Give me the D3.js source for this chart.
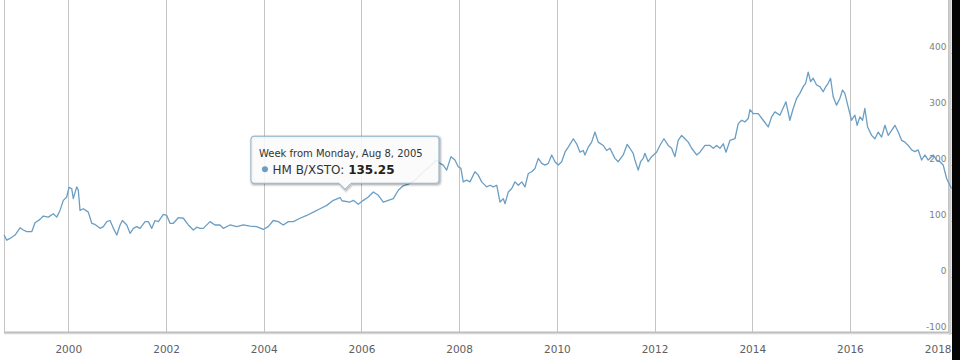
<!DOCTYPE html>
<html><head><meta charset="utf-8">
<script src="https://cdn.jsdelivr.net/npm/d3@7"></script>
<style>html,body{margin:0;padding:0;background:#fff;} svg{display:block;}</style>
</head><body><svg id="chart" width="960" height="360"></svg>
<script>
const seriesName = "HM B/XSTO";
// time in decimal years (weekly closes)
const years = [
1998.684,1998.739,1998.807,1998.909,1999.012,1999.079,1999.149,1999.251,1999.319,1999.421,1999.488,1999.591,1999.693,1999.763,1999.830,1999.898,1999.967,
2000.014,2000.070,2000.102,2000.172,2000.205,2000.239,2000.307,2000.409,2000.479,2000.546,2000.649,2000.716,2000.786,2000.853,2000.921,2000.991,
2001.058,2001.105,2001.195,2001.263,2001.330,2001.400,2001.467,2001.570,2001.637,2001.707,2001.774,2001.842,2001.944,
2002.014,2002.081,2002.149,2002.251,2002.354,2002.456,2002.558,2002.628,2002.695,2002.763,2002.900,
2003.002,2003.105,2003.172,2003.309,2003.447,2003.582,2003.719,2003.856,2003.991,
2004.093,2004.196,2004.298,2004.400,2004.503,2004.605,2004.742,2004.879,
2005.014,2005.151,2005.289,2005.424,2005.561,2005.600,2005.765,2005.833,2005.935,
2006.038,2006.140,2006.242,2006.345,2006.447,2006.549,2006.652,2006.754,2006.856,2006.959,
2007.096,2007.259,2007.403,2007.540,2007.607,2007.675,2007.745,2007.833,2007.914,2007.982,
2008.037,2008.084,2008.154,2008.221,2008.324,2008.391,2008.461,2008.563,2008.631,2008.698,2008.768,2008.835,2008.903,2008.938,
2009.005,2009.075,2009.142,2009.210,2009.280,2009.347,2009.415,2009.484,2009.552,2009.619,2009.689,2009.756,2009.824,2009.894,2009.961,
2010.029,2010.098,2010.166,2010.233,2010.336,2010.405,2010.473,2010.540,2010.575,2010.643,2010.712,2010.780,2010.847,2010.949,
2011.019,2011.087,2011.189,2011.256,2011.359,2011.441,2011.496,2011.563,2011.598,2011.666,2011.715,2011.768,2011.803,2011.870,2011.940,
2012.042,2012.110,2012.192,2012.280,2012.349,2012.417,2012.484,2012.554,2012.621,2012.689,2012.759,2012.861,2012.928,
2013.031,2013.133,2013.201,2013.270,2013.338,2013.405,2013.461,2013.542,2013.645,2013.712,2013.782,2013.849,2013.917,2013.952,
2014.019,2014.122,2014.224,2014.326,2014.396,2014.463,2014.566,2014.689,2014.770,2014.838,2014.908,2014.975,
2015.043,2015.092,2015.145,2015.194,2015.247,2015.317,2015.384,2015.452,2015.507,2015.554,2015.603,2015.657,2015.726,2015.794,2015.849,2015.896,2015.964,
2016.033,2016.101,2016.148,2016.203,2016.258,2016.305,2016.361,2016.443,2016.510,2016.578,2016.647,2016.715,2016.782,2016.852,2016.919,2016.987,
2017.057,2017.124,2017.192,2017.261,2017.329,2017.396,2017.466,2017.533,2017.601,2017.703,2017.773,2017.840,2017.908,2017.943,2017.978,
2018.045,2018.080
];
const values = [
74,65,68,74,87,83,80,80,96,102,108,106,112,106,118,136,142,
159,157,139,160,154,118,121,115,95,93,86,89,98,100,86,74,
92,100,92,77,86,89,86,98,98,86,100,98,111,
109,95,95,105,104,92,83,88,86,86,98,
92,92,86,92,89,92,90,89,84,
89,100,98,92,98,98,104,109,
115,121,127,136,141,135.25,133,136,129,
136,142,151,145,133,136,139,154,162,165,
172,186,197,208,202,199,190,214,208,196,
193,169,172,169,187,181,169,160,163,160,163,133,139,130,
151,157,169,163,169,160,184,187,193,211,202,199,202,217,205,
199,205,222,231,246,237,222,225,217,231,240,258,240,234,
225,229,211,205,217,236,229,220,208,190,205,211,220,205,214,
222,234,246,234,229,214,243,252,246,240,229,217,222,
234,234,229,234,229,237,222,243,246,273,279,276,282,298,
291,291,279,267,285,294,288,312,279,300,318,327,
339,345,365,348,354,342,339,330,339,345,354,321,306,318,333,327,303,
279,288,270,285,279,300,267,252,246,258,249,270,252,261,270,258,
243,240,234,226,223,226,208,217,208,217,208,205,199,187,175,
163,157
];
const xTickYears = [2000,2002,2004,2006,2008,2010,2012,2014,2016,2018];
const xTickLabels = ["2000","2002","2004","2006","2008","2010","2012","2014","2016","2018"];
const yTicks = [-100,0,100,200,300,400];
const yTickLabels = ["-100","0","100","200","300","400"];
const tooltipDateLabel = "Week from Monday, Aug 8, 2005";
const tooltipYear = 2005.600;
const tooltipValue = 135.25;

function toDate(t){
  const yr = Math.floor(t);
  const s = Date.UTC(yr,0,1), e = Date.UTC(yr+1,0,1);
  return new Date(s + (t-yr)*(e-s));
}

const lineColor = "#6a9ec4";
const svg = d3.select("#chart");
const plotL = 4, plotR = 950, plotB = 332.5;

const x = d3.scaleUtc()
  .domain([new Date(Date.UTC(2000,0,1)), new Date(Date.UTC(2018,0,1))])
  .range([68.3, 947.7]);
const y = d3.scaleLinear().domain([-100,400]).range([332.5,52.5]);

svg.append("rect").attr("width",960).attr("height",360).attr("fill","#fff");

// x axis + vertical grid
const gx = svg.append("g").attr("transform",`translate(0,${plotB})`)
  .call(d3.axisBottom(x)
    .tickValues(xTickYears.map(v=>toDate(v)))
    .tickFormat((d,i)=>xTickLabels[i])
    .tickSize(-plotB));
gx.select(".domain").remove();
gx.selectAll(".tick line").attr("stroke","#c4c4c4").attr("shape-rendering","crispEdges");
gx.selectAll(".tick text")
  .attr("y",20).attr("dy",null)
  .attr("font-family","'DejaVu Sans', Verdana, sans-serif").attr("font-size","10.5px")
  .attr("fill","#606060");
gx.selectAll(".tick").filter((d,i)=>i===xTickYears.length-1).select("text")
  .attr("text-anchor","end").attr("x", plotR - x(toDate(2018)) + 1);

// horizontal grid + labels (right side)
const gy = svg.append("g").attr("transform",`translate(${plotR},0)`)
  .call(d3.axisLeft(y)
    .tickValues(yTicks)
    .tickFormat((d,i)=>yTickLabels[i])
    .tickSize(-(plotR-plotL))
    .tickPadding(3.5));
gy.select(".domain").remove();
gy.selectAll(".tick line").attr("stroke","#c4c4c4").attr("shape-rendering","crispEdges");
gy.selectAll(".tick text")
  .attr("y",-3.5).attr("dy",null)
  .attr("font-family","'DejaVu Sans', Verdana, sans-serif").attr("font-size","9px")
  .attr("fill","#808080");

// plot borders
svg.append("line").attr("x1",plotL).attr("x2",plotL).attr("y1",0).attr("y2",plotB)
  .attr("stroke","#c4c4c4").attr("shape-rendering","crispEdges");
svg.append("line").attr("x1",plotL).attr("x2",plotR+1).attr("y1",plotB+1.5).attr("y2",plotB+1.5)
  .attr("stroke","#e6e6e6").attr("stroke-width",1);
svg.append("line").attr("x1",plotL).attr("x2",plotR+1).attr("y1",plotB).attr("y2",plotB)
  .attr("stroke","#bdbdbd").attr("stroke-width",2);
svg.append("rect").attr("x",plotR-1).attr("y",0).attr("width",2.5).attr("height",plotB+2).attr("fill","#cfcfcf");

// series line
const data = years.map((t,i)=>({d:toDate(t), v:values[i]}));
svg.append("path").datum(data)
  .attr("fill","none").attr("stroke",lineColor).attr("stroke-width",1.3)
  .attr("stroke-linejoin","round")
  .attr("d", d3.line().x(p=>x(p.d)).y(p=>y(p.v)));

// tooltip
const px = x(toDate(tooltipYear)), py = y(tooltipValue);
const L = px - 91, T = py - 64.5, Wb = 188, Hb = 47, R = L + Wb, B = T + Hb, r = 3;
const ax = px + 3;
const tipPath = `M${L+r},${T} H${R-r} Q${R},${T} ${R},${T+r} V${B-r} Q${R},${B} ${R-r},${B} H${ax+6} L${ax},${B+6} L${ax-6},${B} H${L+r} Q${L},${B} ${L},${B-r} V${T+r} Q${L},${T} ${L+r},${T} Z`;
const tip = svg.append("g");
[[5,0.05],[3,0.1],[1,0.15]].forEach(([w,o])=>{
  tip.append("path").attr("d",tipPath).attr("transform","translate(1,1)")
    .attr("fill","none").attr("stroke","#000").attr("stroke-opacity",o).attr("stroke-width",w);
});
tip.append("path").attr("d",tipPath).attr("fill","rgba(251,251,251,0.88)")
  .attr("stroke","#8fb2cc").attr("stroke-width",1);
tip.append("text").attr("x",L+8).attr("y",T+20.5)
  .attr("font-family","'DejaVu Sans', Verdana, sans-serif").attr("font-size","10px").attr("fill","#333")
  .text(tooltipDateLabel);
tip.append("circle").attr("cx",L+14).attr("cy",T+33).attr("r",3).attr("fill",lineColor);
const t2 = tip.append("text").attr("x",L+21.5).attr("y",T+37.3)
  .attr("font-family","'DejaVu Sans', Verdana, sans-serif").attr("font-size","12px").attr("fill","#333");
t2.append("tspan").text(seriesName + ": ");
t2.append("tspan").attr("font-weight","bold").attr("fill","#222").text(d3.format(".2f")(tooltipValue));

// dark frame at right edge
svg.append("rect").attr("x",952).attr("y",0).attr("width",8).attr("height",360).attr("fill","#050505");
</script>
</body></html>
